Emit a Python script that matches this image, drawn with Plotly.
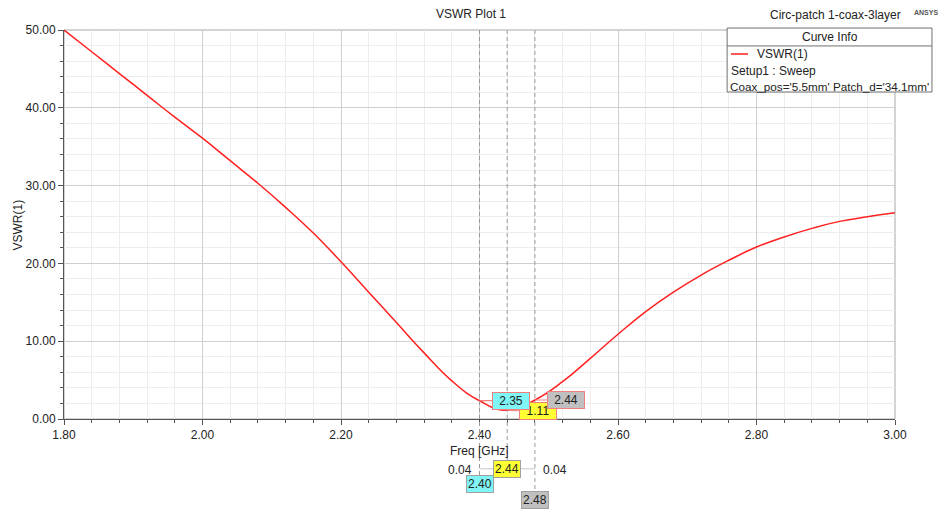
import plotly.graph_objects as go

# ---- data ----
freq_ghz = [1.80, 1.84, 1.88, 1.92, 1.96, 2.00, 2.04, 2.08, 2.12, 2.16, 2.20,
            2.24, 2.28, 2.32, 2.36, 2.40, 2.44, 2.48, 2.52, 2.56, 2.60, 2.64,
            2.68, 2.72, 2.76, 2.80, 2.84, 2.88, 2.92, 2.96, 3.00]
vswr = [50.0, 47.2, 44.4, 41.6, 38.8, 36.1, 33.2, 30.3, 27.2, 23.9, 20.2,
        16.3, 12.4, 8.5, 4.9, 2.35, 1.11, 2.44, 4.8, 7.8, 10.9, 13.8,
        16.3, 18.5, 20.4, 22.1, 23.4, 24.5, 25.4, 26.0, 26.5]

marker_freqs = [2.40, 2.44, 2.48]
marker_vals = [2.35, 1.11, 2.44]
marker_colors = ["#7ff5f5", "#ffff33", "#c0c0c0"]
delta_text = "0.04"

x_ticks = [1.80, 2.00, 2.20, 2.40, 2.60, 2.80, 3.00]
y_ticks = [0, 10, 20, 30, 40, 50]

FONT = "Liberation Sans, Arial, sans-serif"
TXT = dict(family=FONT, size=12, color="#222")

fig = go.Figure()
fig.add_trace(go.Scatter(x=freq_ghz, y=vswr, mode="lines",
                         line=dict(color="#ff2020", width=1.5, shape="spline", smoothing=1.3),
                         name="VSWR(1)", showlegend=False, hoverinfo="x+y"))

shapes = []
annotations = []


def note(x, y, text, xref="paper", yref="paper", xanchor="center", yanchor="middle", **kw):
    d = dict(x=x, y=y, xref=xref, yref=yref, text=text, showarrow=False,
             xanchor=xanchor, yanchor=yanchor, font=kw.pop("font", TXT))
    d.update(kw)
    annotations.append(d)


# vertical dashed marker lines
line_bottoms = [-0.152, -0.108, -0.19]
for f, yb in zip(marker_freqs, line_bottoms):
    shapes.append(dict(type="line", xref="x", yref="paper", x0=f, x1=f, y0=1, y1=yb,
                       line=dict(color="#9a9a9a", width=1, dash="4px,3px"), layer="above"))
# delta connector
shapes.append(dict(type="line", xref="x", yref="paper", x0=marker_freqs[0], x1=marker_freqs[2],
                   y0=-0.128, y1=-0.128, line=dict(color="#c8c8c8", width=1)))

# plot frame (top/right lighter)
shapes.append(dict(type="rect", xref="paper", yref="paper", x0=0, x1=1, y0=0, y1=1,
                   line=dict(color="#a8a8a8", width=1), layer="below"))

# marker callouts on the curve (yellow first so others on top)
order = [1, 0, 2]
ax_off = {0: 31, 1: 31, 2: 31}
ay_off = {0: 0, 1: 1, 2: 0}
for i in order:
    annotations.append(dict(x=marker_freqs[i], y=marker_vals[i], xref="x", yref="y",
                            text=f"{marker_vals[i]:.2f}",
                            showarrow=True, arrowhead=0, arrowcolor="#f08080", arrowwidth=1.2,
                            ax=ax_off[i], ay=ay_off[i],
                            bgcolor=marker_colors[i], bordercolor="#f08080", borderwidth=1,
                            borderpad=1, font=TXT, width=34))

# bottom marker labels
for i, yp in zip(range(3), [-0.168, -0.128, -0.207]):
    note(marker_freqs[i], yp, f"{marker_freqs[i]:.2f}", xref="x",
         bgcolor=marker_colors[i], bordercolor="#a0a0a0", borderwidth=1, borderpad=1)
note(marker_freqs[0], -0.13, delta_text, xref="x", xanchor="right", xshift=-6)
note(marker_freqs[2], -0.13, delta_text, xref="x", xanchor="left", xshift=6)

# axis titles
note(-0.0554, 0.5, "VSWR(1)", textangle=-90)
note(0.5, -0.082, "Freq [GHz]")

# title and project name
note(0.49, 1.0, "VSWR Plot 1", yshift=16)
note(1.0096, 1.0, "Circ-patch 1-coax-3layer", xanchor="right", yshift=15)
note(1.0205, 1.0, "<b>ANSYS</b>", xanchor="left", yshift=18,
     font=dict(family=FONT, size=7, color="#555"))

# Curve info box
lx0, lx1 = 0.798, 1.0445
ly0, ly1 = 0.8406, 1.005
shapes.append(dict(type="rect", xref="paper", yref="paper", x0=lx0, x1=lx1, y0=ly0, y1=ly1,
                   fillcolor="white", line=dict(color="#707070", width=1), layer="above"))
shapes.append(dict(type="line", xref="paper", yref="paper", x0=lx0, x1=lx1, y0=0.959, y1=0.959,
                   line=dict(color="#707070", width=1), layer="above"))
shapes.append(dict(type="line", xref="paper", yref="paper", x0=0.8026, x1=0.8231, y0=0.9383, y1=0.9383,
                   line=dict(color="#ff2020", width=1.5), layer="above"))
note((lx0 + lx1) / 2, 0.982, "Curve Info")
note(0.831, 0.9383, "VSWR(1)", xanchor="left")
note(0.8005, 0.895, "Setup1 : Sweep", xanchor="left")
note(0.7995, 0.8535, "Coax_pos='5.5mm' Patch_d='34.1mm'", xanchor="left",
     font=dict(family=FONT, size=11.7, color="#222"))

fig.update_layout(
    width=938, height=510,
    margin=dict(l=64, r=43, t=30, b=91),
    plot_bgcolor="white", paper_bgcolor="white",
    font=TXT,
    shapes=shapes, annotations=annotations,
    showlegend=False,
)
fig.update_xaxes(range=[1.80, 3.00], tickvals=x_ticks, tickformat=".2f",
                 showgrid=True, gridcolor="#cfcfcf", gridwidth=1,
                 showline=True, linecolor="#555", linewidth=1,
                 ticks="outside", ticklen=5, tickcolor="#555",
                 zeroline=False,
                 minor=dict(dtick=0.04, tick0=1.80, showgrid=True, gridcolor="#ededed",
                            ticks="outside", ticklen=3, tickcolor="#555"))
fig.update_yaxes(range=[0, 50], tickvals=y_ticks, tickformat=".2f",
                 showgrid=True, gridcolor="#cfcfcf", gridwidth=1,
                 showline=True, linecolor="#555", linewidth=1,
                 ticks="outside", ticklen=5, tickcolor="#555",
                 zeroline=False,
                 minor=dict(dtick=2, tick0=0, showgrid=True, gridcolor="#ededed",
                            ticks="outside", ticklen=3, tickcolor="#555"))

# remove the page's default body margin so the 938x510 figure fills the window exactly
fig.write_html("out.html", config={"displayModeBar": False},
               post_script="document.body.style.margin='0';document.body.style.overflow='hidden';"
                           "document.documentElement.style.overflow='hidden';")
